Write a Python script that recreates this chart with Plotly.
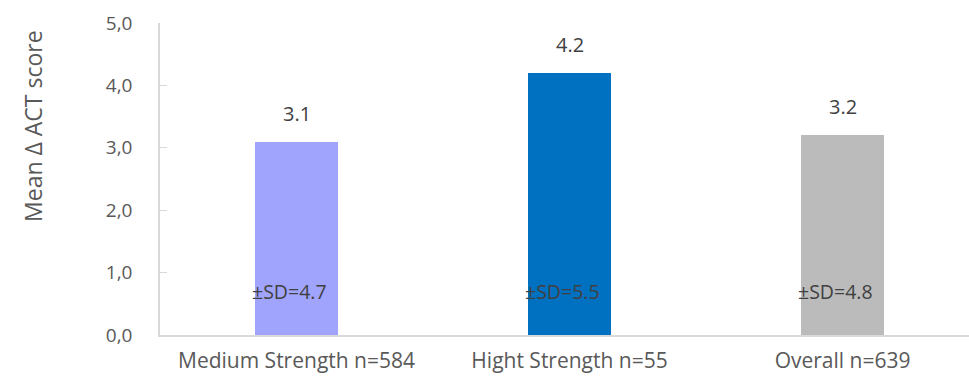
import plotly.graph_objects as go

# Mean change in ACT score by group
categories = ["Medium Strength n=584", "Hight Strength n=55", "Overall n=639"]
mean_change = [3.1, 4.2, 3.2]
sd_values = [4.7, 5.5, 4.8]
bar_colors = ["#A0A4FC", "#0070C0", "#BBBBBB"]
y_ticks = [0, 1, 2, 3, 4, 5]
y_tick_text = ["0,0", "1,0", "2,0", "3,0", "4,0", "5,0"]
sd_label_level = 0.7

FONT = "Open Sans"
TEXT_GREY = "#595959"
DARK = "#404040"
LINE = "#D9D9D9"

x_pos = list(range(len(categories)))

fig = go.Figure()
fig.add_trace(go.Bar(
    x=x_pos,
    y=mean_change,
    marker=dict(color=bar_colors, line=dict(width=0)),
    width=0.304,
    hoverinfo="skip",
))

annotations = []
for xi, m, sd in zip(x_pos, mean_change, sd_values):
    annotations.append(dict(
        x=xi, y=m, xref="x", yref="y", text=f"{m:.1f}",
        showarrow=False, yanchor="bottom", yshift=13,
        font=dict(family=FONT, size=20, color=DARK),
    ))
    annotations.append(dict(
        x=xi, y=sd_label_level, xref="x", yref="y", text=f"±SD={sd:.1f}",
        showarrow=False, yanchor="middle", xshift=-7,
        font=dict(family=FONT, size=19.5, color=DARK),
    ))

annotations.append(dict(
    x=0, y=0.67, xref="paper", yref="paper", text="Mean Δ ACT score",
    showarrow=False, textangle=-90, xanchor="center", yanchor="middle",
    xshift=-127,
    font=dict(family=FONT, size=23, color=TEXT_GREY),
))

fig.update_layout(
    width=969, height=381,
    margin=dict(l=160, r=0, t=23, b=46),
    paper_bgcolor="white", plot_bgcolor="white",
    showlegend=False,
    annotations=annotations,
    bargap=0,
)
fig.update_xaxes(
    range=[-0.5, 2.463],
    tickvals=x_pos, ticktext=categories,
    tickfont=dict(family=FONT, size=21, color=TEXT_GREY),
    showgrid=False, zeroline=False,
    showline=True, linecolor=LINE, linewidth=2,
    ticks="", ticklabelstandoff=6,
)
fig.update_yaxes(
    range=[0, 5],
    tickvals=y_ticks, ticktext=y_tick_text,
    tickfont=dict(family=FONT, size=19, color=TEXT_GREY),
    showgrid=False, zeroline=False,
    showline=True, linecolor=LINE, linewidth=1.5,
    ticks="inside", ticklen=7, tickcolor=LINE, tickwidth=1,
    ticklabelstandoff=22,
)

fig.write_html("out.html")
